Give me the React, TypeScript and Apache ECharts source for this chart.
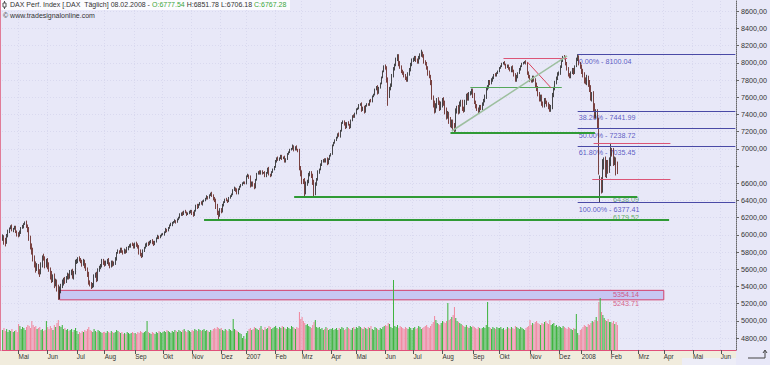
import React, { useEffect, useRef } from 'react';
import * as echarts from 'echarts';

// ---------- calendar ----------
const firstDay = '2006-04-11';
const axisDays = 554;
const holidays = ['2006-04-14', '2006-04-17', '2006-05-01', '2006-12-25', '2006-12-26', '2007-01-01', '2007-04-06', '2007-04-09', '2007-05-01', '2007-12-24', '2007-12-25', '2007-12-26', '2007-12-31', '2008-01-01', '2008-03-21', '2008-03-24', '2008-05-01'];
const monthNames = ['Jan', 'Feb', 'Mrz', 'Apr', 'Mai', 'Jun', 'Jul', 'Aug', 'Sep', 'Okt', 'Nov', 'Dez'];

// ---------- daily closes (DAX, Apr 2006 - Feb 2008) ----------
const closes = [
  5985, 5935, 5905, 5990, 6040, 6075, 6090, 6060, 6070, 6085, 6040, 6010,
  5990, 6030, 6080, 6095, 6125, 6135, 6100, 6060, 5950, 5870, 5800, 5720, 5660, 5610, 5630, 5580, 5560, 5650, 5740, 5720, 5650, 5700,
  5640, 5600, 5530, 5480, 5510, 5430, 5460, 5380, 5290, 5350, 5400, 5440, 5480, 5460, 5500, 5530, 5510, 5560, 5575, 5510, 5560, 5680,
  5700, 5720, 5710, 5690, 5660, 5690, 5640, 5600, 5540, 5450, 5420, 5400, 5410, 5520, 5540, 5480, 5590, 5620, 5640, 5700, 5680,
  5650, 5680, 5710, 5660, 5630, 5680, 5650, 5670, 5720, 5790, 5810, 5800, 5830, 5810, 5790, 5820, 5800, 5840, 5860, 5870, 5890, 5880, 5860,
  5900, 5880, 5860, 5800, 5770, 5760, 5810, 5850, 5880, 5900, 5890, 5920, 5930, 5910, 5890, 5920, 5960, 5980, 5970, 5990, 6005,
  6010, 6030, 6060, 6050, 6080, 6110, 6120, 6140, 6150, 6160, 6150, 6180, 6200, 6230, 6250, 6240, 6270, 6260, 6240, 6250, 6270, 6280,
  6250, 6230, 6280, 6340, 6320, 6350, 6370, 6360, 6390, 6400, 6420, 6440, 6430, 6460, 6480, 6450, 6420, 6400, 6330, 6260, 6230, 6290,
  6270, 6340, 6380, 6410, 6400, 6390, 6430, 6450, 6470, 6520, 6540, 6520, 6480, 6530, 6560, 6580, 6600, 6610, 6597,
  6680, 6690, 6670, 6570, 6610, 6580, 6550, 6640, 6710, 6730, 6710, 6740, 6720, 6720, 6680, 6720, 6770, 6700, 6690, 6730, 6760, 6790,
  6860, 6890, 6870, 6890, 6920, 6890, 6900, 6850, 6880, 6940, 6960, 6990, 7000, 7030, 6990, 7020, 6990, 6980, 6780, 6720,
  6630, 6620, 6500, 6590, 6620, 6700, 6720, 6680, 6610, 6490, 6590, 6640, 6730, 6760, 6810, 6860, 6870, 6850, 6880, 6830, 6880, 6920,
  6940, 7040, 7070, 7100, 7130, 7170, 7150, 7210, 7300, 7320, 7290, 7250, 7300, 7280, 7250, 7330, 7380, 7370, 7410,
  7460, 7470, 7510, 7520, 7450, 7480, 7430, 7500, 7520, 7510, 7560, 7550, 7610, 7630, 7690, 7720, 7650, 7710, 7760, 7830, 7900, 7960,
  7940, 7800, 7620, 7700, 7740, 7850, 7930, 7980, 8040, 8080, 7990, 7950, 7900, 7880, 7850, 7820, 7800, 7870, 7920, 7980, 8030,
  8040, 8060, 8030, 8010, 8060, 8090, 8110, 8080, 8010, 7990, 7940, 7880, 7840, 7770, 7600, 7520, 7460, 7500, 7570, 7540, 7480, 7520,
  7560, 7530, 7450, 7380, 7400, 7330, 7290, 7310, 7260, 7230, 7440, 7470, 7430, 7520, 7540, 7470, 7450, 7540, 7620, 7580, 7640, 7650, 7680,
  7620, 7540, 7500, 7460, 7440, 7490, 7470, 7520, 7560, 7610, 7700, 7720, 7780, 7760, 7800, 7830, 7860, 7850, 7880, 7900,
  7940, 7960, 7990, 8000, 7980, 7950, 7970, 7930, 7910, 7950, 7900, 7860, 7800, 7840, 7880, 7920, 7960, 7990, 8000, 8010, 7990, 7880, 7840,
  7800, 7790, 7830, 7800, 7740, 7700, 7640, 7580, 7600, 7530, 7510, 7560, 7540, 7520, 7490, 7460, 7480, 7620, 7700, 7770, 7820, 7870,
  7880, 7950, 8030, 8070, 8060, 7990, 7930, 7860, 7840, 7890, 7920, 7880, 7960, 8040, 8067, 7990, 7950,
  7900, 7860, 7800, 7780, 7820, 7760, 7700, 7600, 7620, 7480, 7400, 7410, 7300, 6790, 6600, 6540, 6820, 6850, 6720, 6820, 6760, 6850,
  6970, 6960, 6850, 6860, 6740, 6767.28,
];
const firstOpen = 5960;
// upper / lower wick lengths, in tens of index points
const hiW = [
  2, 1, 3, 2, 2, 1, 2, 3, 1, 2, 2, 1,
  2, 2, 1, 2, 1, 2, 3, 2, 3, 4, 3, 5, 4, 3, 4, 3, 2, 3, 2, 4, 3, 2,
  3, 4, 2, 5, 3, 4, 3, 2, 4, 5, 3, 4, 2, 3, 2, 3, 2, 3, 2, 3, 2, 3,
  2, 2, 3, 2, 2, 3, 2, 3, 2, 3, 2, 3, 3, 2, 2, 3, 2, 2, 2, 2, 2,
  2, 2, 1, 2, 2, 2, 2, 2, 2, 1, 2, 1, 2, 2, 1, 2, 1, 2, 1, 2, 1, 2, 2,
  1, 2, 2, 2, 3, 2, 2, 1, 2, 1, 2, 1, 1, 2, 2, 1, 1, 2, 1, 1, 1,
  1, 1, 2, 1, 1, 1, 2, 1, 1, 2, 1, 1, 1, 2, 1, 2, 1, 2, 1, 1, 1, 1,
  1, 2, 1, 1, 2, 1, 1, 2, 1, 1, 1, 2, 1, 1, 1, 2, 2, 2, 2, 3, 2, 2,
  2, 2, 1, 1, 2, 1, 1, 1, 1, 1, 2, 1, 2, 1, 1, 1, 1, 1, 1,
  1, 2, 1, 2, 1, 1, 2, 1, 1, 1, 2, 1, 1, 1, 2, 1, 1, 2, 1, 1, 1, 1,
  1, 1, 2, 1, 1, 1, 1, 2, 1, 1, 1, 1, 1, 2, 1, 1, 2, 1, 2, 2,
  3, 2, 4, 3, 2, 2, 2, 2, 3, 3, 2, 2, 2, 1, 2, 1, 1, 2, 1, 2, 1, 1,
  1, 1, 1, 1, 1, 1, 2, 1, 1, 1, 1, 2, 1, 2, 1, 1, 1, 2, 1,
  1, 1, 1, 1, 2, 1, 2, 1, 1, 1, 1, 2, 1, 1, 1, 1, 2, 1, 1, 1, 1, 1,
  2, 2, 3, 2, 2, 2, 2, 1, 2, 2, 2, 3, 2, 2, 2, 2, 2, 2, 2, 2, 2,
  2, 2, 2, 2, 2, 2, 3, 2, 2, 2, 2, 2, 3, 2, 3, 2, 4, 3, 2, 3, 2, 3,
  3, 4, 3, 3, 4, 3, 4, 3, 3, 4, 3, 3, 4, 3, 3, 3, 2, 3, 2, 3, 2, 2, 2,
  2, 3, 2, 2, 2, 2, 2, 2, 2, 2, 2, 2, 2, 2, 2, 1, 1, 2, 1, 1,
  1, 1, 1, 1, 2, 1, 1, 1, 2, 1, 2, 2, 2, 2, 1, 2, 1, 1, 1, 1, 2, 2, 2,
  2, 2, 2, 2, 2, 3, 3, 2, 3, 3, 2, 3, 3, 2, 2, 3, 3, 3, 2, 2, 2, 2,
  2, 2, 2, 1, 2, 2, 2, 2, 2, 1, 2, 2, 1, 2, 3, 2, 2,
  3, 3, 3, 3, 4, 3, 4, 4, 4, 5, 5, 5, 5, 6, 9, 7, 6, 5, 6, 5, 5, 5,
  9, 4, 5, 5, 4, 0,
];
const loW = [
  3, 5, 4, 1, 2, 2, 1, 2, 3, 1, 2, 3,
  2, 1, 2, 1, 2, 1, 2, 3, 2, 4, 3, 3, 4, 5, 3, 4, 5, 2, 3, 2, 4, 3,
  4, 3, 5, 4, 3, 5, 3, 4, 5, 4, 3, 2, 3, 3, 2, 2, 3, 2, 3, 2, 3, 2,
  2, 3, 2, 2, 3, 2, 3, 2, 3, 3, 2, 3, 2, 2, 2, 3, 2, 2, 2, 2, 3,
  2, 1, 2, 2, 2, 1, 2, 1, 2, 2, 1, 2, 1, 2, 2, 1, 2, 1, 2, 1, 2, 1, 2,
  2, 2, 2, 3, 2, 3, 2, 1, 1, 2, 2, 1, 2, 2, 2, 1, 1, 1, 2, 1, 1,
  1, 2, 1, 2, 1, 1, 1, 2, 1, 1, 2, 1, 1, 1, 1, 2, 1, 1, 2, 1, 1, 2,
  2, 2, 1, 1, 2, 1, 1, 1, 2, 1, 1, 1, 2, 1, 1, 1, 2, 2, 3, 3, 5, 2,
  2, 1, 1, 1, 1, 2, 1, 1, 1, 1, 1, 2, 1, 1, 1, 1, 1, 1, 1,
  1, 1, 2, 2, 1, 2, 2, 1, 1, 1, 1, 1, 2, 1, 1, 1, 1, 1, 2, 1, 1, 1,
  1, 2, 1, 1, 1, 2, 1, 1, 1, 1, 1, 1, 1, 1, 2, 1, 1, 2, 3, 4,
  4, 3, 6, 3, 2, 2, 2, 2, 3, 4, 3, 2, 1, 2, 1, 1, 2, 1, 1, 2, 1, 1,
  1, 1, 1, 1, 1, 1, 1, 2, 1, 1, 2, 2, 1, 1, 2, 1, 1, 1, 1,
  1, 1, 1, 1, 2, 1, 2, 1, 1, 1, 1, 1, 1, 1, 1, 1, 2, 1, 1, 1, 1, 1,
  2, 3, 5, 3, 2, 2, 2, 2, 2, 2, 3, 2, 2, 2, 2, 2, 2, 2, 2, 2, 2,
  2, 2, 2, 2, 2, 2, 2, 2, 2, 2, 2, 3, 2, 3, 3, 4, 5, 4, 3, 3, 4, 3,
  4, 3, 5, 4, 3, 4, 4, 5, 4, 4, 3, 3, 3, 2, 3, 3, 3, 2, 3, 2, 2, 2, 2,
  3, 2, 3, 2, 3, 2, 2, 2, 2, 2, 3, 2, 2, 2, 1, 2, 2, 1, 1, 1,
  1, 1, 1, 1, 1, 2, 1, 1, 1, 2, 1, 2, 2, 2, 2, 1, 1, 1, 1, 1, 1, 2, 2,
  2, 2, 2, 2, 3, 3, 3, 3, 3, 3, 3, 3, 2, 3, 3, 3, 3, 2, 2, 2, 2, 2,
  2, 2, 1, 2, 2, 2, 2, 2, 2, 2, 2, 2, 1, 1, 2, 2, 2,
  3, 3, 4, 3, 4, 4, 4, 4, 5, 5, 5, 5, 6, 9, 9, 6, 5, 6, 5, 6, 5, 4,
  5, 5, 5, 4, 5, 0,
];
const keyHighs: [number, number][] = [[316, 8151.57], [434, 8100.04], [459, 7060]];
const keyLows: [number, number][] = [[42, 5243.71], [163, 6179.52], [228, 6438.09], [291, 7500], [341, 7192], [451, 6377.41]];
const keyOpens: [number, number][] = [[451, 6450]];
const lastOpen = 6777.54;
const lastHigh = 6851.78;
const lastLow = 6706.18;
const lastClose = 6767.28;

// volume (Mio.)
const volumes = [
  20, 22, 19, 21, 18, 20, 19, 21, 18, 19, 20, 18,
  26, 24, 21, 23, 22, 20, 23, 25, 24, 22, 29, 25, 23, 24, 21, 22, 23, 20, 21, 19, 20, 29,
  23, 21, 24, 22, 20, 25, 23, 27, 30, 24, 23, 25, 21, 22, 20, 21, 19, 20, 21, 18, 20, 22,
  19, 16, 18, 17, 19, 18, 20, 19, 21, 23, 20, 19, 18, 21, 19, 18, 20, 19, 18, 17, 18,
  18, 17, 19, 18, 17, 19, 18, 17, 18, 20, 19, 18, 17, 18, 16, 17, 16, 18, 17, 16, 17, 18, 17,
  17, 16, 18, 17, 19, 18, 17, 18, 19, 29, 18, 17, 16, 18, 17, 16, 18, 17, 19, 18, 17,
  18, 19, 18, 20, 19, 18, 17, 19, 18, 20, 19, 18, 20, 19, 18, 20, 21, 19, 18, 20, 19, 18,
  20, 19, 21, 20, 19, 21, 20, 19, 20, 21, 19, 20, 19, 18, 20, 19, 21, 22, 21, 23, 22, 21,
  22, 20, 19, 21, 20, 19, 21, 20, 19, 31, 21, 20, 19, 18, 17, 16, 12, 14, 11,
  17, 19, 21, 22, 20, 21, 23, 22, 21, 20, 22, 24, 21, 20, 23, 21, 22, 24, 23, 21, 22, 23,
  24, 22, 21, 23, 22, 24, 23, 22, 21, 23, 22, 21, 24, 23, 22, 21, 23, 22, 38, 31,
  33, 29, 27, 25, 26, 24, 23, 22, 25, 28, 30, 23, 22, 23, 21, 22, 20, 21, 23, 22, 20, 21,
  21, 22, 20, 21, 22, 20, 22, 21, 23, 22, 20, 21, 23, 22, 21, 20, 22, 23, 21,
  23, 22, 24, 23, 22, 21, 23, 22, 21, 23, 22, 24, 21, 20, 23, 22, 21, 20, 22, 21, 23, 24,
  25, 24, 27, 26, 23, 22, 70, 24, 23, 25, 22, 24, 23, 22, 21, 23, 22, 21, 23, 22, 20,
  22, 23, 21, 22, 24, 23, 21, 22, 23, 24, 25, 23, 22, 24, 26, 28, 34, 30, 27, 26, 25, 27,
  29, 28, 27, 29, 47, 30, 31, 33, 35, 43, 32, 29, 28, 27, 26, 25, 24, 23, 25, 23, 22, 24, 23,
  24, 23, 22, 21, 23, 22, 21, 22, 23, 22, 25, 48, 23, 22, 21, 23, 22, 21, 23, 22,
  22, 23, 21, 22, 20, 21, 23, 22, 21, 23, 22, 21, 24, 23, 22, 21, 23, 22, 21, 20, 22, 23, 24,
  30, 25, 27, 26, 28, 29, 27, 26, 25, 27, 26, 28, 29, 27, 26, 30, 25, 26, 27, 24, 25, 23,
  24, 23, 22, 24, 23, 22, 21, 23, 22, 21, 20, 22, 21, 36, 17, 15, 20,
  21, 23, 25, 24, 23, 26, 25, 27, 29, 28, 30, 33, 29, 48, 52, 38, 35, 32, 30, 29, 31, 28,
  28, 27, 29, 26, 28, 25,
];

// ---------- axis ticks ----------
const priceTicks = [4800, 5000, 5200, 5400, 5600, 5800, 6000, 6200, 6400, 6600, 6800, 7000, 7200, 7400, 7600, 7800, 8000, 8200, 8400, 8600];
const priceLabelTicks = [4800, 5000, 5200, 5400, 5600, 5800, 6000, 6200, 6400, 6600, 7000, 7200, 7400, 7600, 7800, 8000, 8200, 8400, 8600];
const priceMin = 4660.5;
const priceMax = 8718.6;

// ---------- drawings ----------
const fibPct = ['0.00%', '38.20%', '50.00%', '61.80%', '100.00%'];
const fibValues = [8100.04, 7441.99, 7238.72, 7035.45, 6377.41];
const fibFrom = 434;
const supportLevels = [
  { from: 220, to: 479, value: 6438.09 },
  { from: 152, to: 503, value: 6179.52 },
  { from: 338, to: 447, value: 7192 },
];
const thinGreenLevels = [{ from: 353, to: 422, value: 7719 }];
const redLevels = [
  { from: 378, to: 426, value: 8056 },
  { from: 446, to: 504, value: 7068 },
  { from: 445, to: 504, value: 6649 },
];
const redDiagonals = [{ from: 396, fromValue: 8010, to: 414, toValue: 7707 }];
const trendLines = [{ from: 339, fromValue: 7207, to: 426, toValue: 8080 }];
const boxRange = { from: 43, to: 499, top: 5354.14, bottom: 5243.71 };
const levelLabelAt = 460;

const FONT = 'Liberation Sans, Arial, sans-serif';

function buildDates(): string[] {
  const out: string[] = [];
  const hol = new Set(holidays);
  const d = new Date(firstDay + 'T00:00:00Z');
  while (out.length < axisDays) {
    const wd = d.getUTCDay();
    const s = d.toISOString().slice(0, 10);
    if (wd !== 0 && wd !== 6 && !hol.has(s)) out.push(s);
    d.setUTCDate(d.getUTCDate() + 1);
  }
  return out;
}

const de2 = (v: number) => v.toFixed(2).replace('.', ',');

export default function App() {
  const ref = useRef<HTMLDivElement>(null);
  useEffect(() => {
    if (!ref.current) return;
    const chart = echarts.init(ref.current, undefined, { renderer: 'svg' });
    const dates = buildDates();
    const isMonthStart = (i: number) => i > 0 && dates[i].slice(5, 7) !== dates[i - 1].slice(5, 7);
    const lastIdx = closes.length - 1;

    const candles = closes.map((c, i) => {
      let o = i === 0 ? firstOpen : closes[i - 1];
      const ko = keyOpens.find((k) => k[0] === i);
      if (ko) o = ko[1];
      let h = Math.max(o, c) + hiW[i] * 10;
      let l = Math.min(o, c) - loW[i] * 10;
      const kh = keyHighs.find((k) => k[0] === i);
      if (kh) h = kh[1];
      const kl = keyLows.find((k) => k[0] === i);
      if (kl) l = kl[1];
      if (i === lastIdx) { o = lastOpen; h = lastHigh; l = lastLow; }
      return [o, c, l, h];
    });

    const volData = volumes.map((v, i) => ({
      value: v,
      itemStyle: { color: candles[i][1] >= candles[i][0] ? '#3fb43f' : '#f0899f' },
    }));

    const seg = (a: number, av: number, b: number, bv: number, color: string, width: number) => [
      { coord: [a, av], lineStyle: { color, width, type: 'solid' } },
      { coord: [b, bv] },
    ];
    const lastCat = axisDays - 1;
    const markLines: any[] = [
      {
        yAxis: lastClose,
        lineStyle: { opacity: 0 },
        label: {
          show: true, position: 'end', distance: 2, formatter: de2(lastClose),
          fontSize: 7.2, fontFamily: FONT, color: '#222', backgroundColor: '#f6f6f6',
          borderColor: '#8a8a8a', borderWidth: 1, padding: [1, 3, 0, 3],
        },
      },
      ...fibValues.map((v) => seg(fibFrom, v, lastCat, v, '#4a4aa6', 1)),
      ...supportLevels.map((s) => seg(s.from, s.value, s.to, s.value, '#2f9a35', 2)),
      ...thinGreenLevels.map((s) => seg(s.from, s.value, s.to, s.value, '#55a85a', 1)),
      ...redLevels.map((s) => seg(s.from, s.value, s.to, s.value, '#dc5577', 1)),
      ...redDiagonals.map((s) => seg(s.from, s.fromValue, s.to, s.toValue, '#d9455e', 1)),
      ...trendLines.map((s) => seg(s.from, s.fromValue, s.to, s.toValue, '#9dbf9f', 1.5)),
    ];

    const lbl = (idx: number, v: number, text: string, color: string, dy: number) => ({
      value: [idx, v],
      label: { show: true, position: 'right', distance: 1, formatter: text, color, fontSize: 7.2, fontFamily: FONT, lineHeight: 8, offset: [0, dy] },
    });
    const fibDy = [7, 7, 7, 7, 7];
    const labelData = [
      ...fibValues.map((v, k) => lbl(fibFrom, v, `${fibPct[k]} - ${v.toFixed(2)}`, '#3535b5', fibDy[k])),
      lbl(levelLabelAt, supportLevels[0].value, supportLevels[0].value.toFixed(2), '#3f8a63', 2.5),
      lbl(levelLabelAt, supportLevels[1].value, supportLevels[1].value.toFixed(2), '#3a9a3a', -1.5),
      lbl(levelLabelAt, boxRange.top, boxRange.top.toFixed(2), '#d0386a', 4),
      lbl(levelLabelAt, boxRange.bottom, boxRange.bottom.toFixed(2), '#d0386a', 4),
    ];

    const lastDate = dates[lastIdx];
    const headerDate = `${lastDate.slice(8, 10)}.${lastDate.slice(5, 7)}.${lastDate.slice(0, 4)}`;

    chart.setOption({
      animation: false,
      backgroundColor: 'transparent',
      textStyle: { fontFamily: FONT },
      grid: [
        { left: 2, right: 34, top: 1, bottom: 15, show: false },
        { left: 2, right: 34, top: 250, bottom: 15, show: false },
      ],
      xAxis: [
        {
          type: 'category', gridIndex: 0, data: dates, boundaryGap: true,
          axisLine: { show: true, lineStyle: { color: '#e0507a', width: 1 } },
          axisTick: { show: true, interval: (i: number) => isMonthStart(i), alignWithLabel: true, length: 4, lineStyle: { color: '#555' } },
          axisLabel: {
            interval: (i: number) => isMonthStart(i), fontSize: 6.4, color: '#333', align: 'left', margin: 3,
            formatter: (v: string) => { const m = +v.slice(5, 7); return m === 1 ? v.slice(0, 4) : monthNames[m - 1]; },
          },
          splitLine: { show: true, interval: (i: number) => isMonthStart(i), lineStyle: { color: '#d9d9ef', type: [1, 2] } },
        },
        { type: 'category', gridIndex: 1, data: dates, boundaryGap: true, show: false },
      ],
      yAxis: [
        {
          type: 'value', gridIndex: 0, position: 'right', min: priceMin, max: priceMax,
          axisLine: { show: true, lineStyle: { color: '#666', type: 'dotted' } },
          axisTick: { show: true, length: 3, customValues: priceTicks, lineStyle: { color: '#666' } },
          axisLabel: { customValues: priceLabelTicks, formatter: (v: number) => de2(v), fontSize: 7.2, color: '#333', margin: 5 },
          splitLine: { show: true, lineStyle: { color: '#d9d9ef', type: [1, 2] } },
        },
        { type: 'value', gridIndex: 1, min: 0, max: 100, show: false },
      ],
      series: [
        {
          type: 'scatter', xAxisIndex: 0, yAxisIndex: 0, z: 1, symbolSize: 0, silent: true,
          data: labelData,
          markArea: {
            silent: true,
            itemStyle: { color: '#c7c7f3', borderColor: '#d2406c', borderWidth: 1 },
            data: [[{ coord: [boxRange.from, boxRange.top] }, { coord: [boxRange.to, boxRange.bottom] }]],
          },
        },
        {
          type: 'bar', xAxisIndex: 1, yAxisIndex: 1, z: 2, barWidth: '78%', silent: true,
          data: volData,
        },
        {
          type: 'candlestick', xAxisIndex: 0, yAxisIndex: 0, z: 3, barWidth: '78%', silent: true,
          itemStyle: { color: '#f2f2f2', color0: '#b3382c', borderColor: '#1c1c1c', borderColor0: '#5c1612', borderWidth: 0.8 },
          data: candles,
          markLine: { silent: true, symbol: ['none', 'none'], label: { show: false }, data: markLines },
        },
      ],
      graphic: [
        { type: 'rect', shape: { x: 0, y: 0, width: 290, height: 10 }, style: { fill: '#fbfbfe' }, z: 10 },
        { type: 'line', shape: { x1: 4.5, y1: 1, x2: 4.5, y2: 9 }, style: { stroke: '#555', lineWidth: 1 }, z: 11 },
        { type: 'rect', shape: { x: 3, y: 3, width: 3, height: 4 }, style: { fill: '#fff', stroke: '#555', lineWidth: 1 }, z: 12 },
        {
          type: 'text', x: 10, y: 1, z: 12,
          style: {
            text: `{d|DAX Perf. Index [.DAX  Täglich] ${headerDate} - }{g|O:${lastOpen.toFixed(2)}}{d| H:${lastHigh.toFixed(2)} L:${lastLow.toFixed(2)} }{g|C:${lastClose.toFixed(2)}}`,
            rich: {
              d: { fill: '#333', fontSize: 7, fontFamily: FONT },
              g: { fill: '#3aa63a', fontSize: 7, fontFamily: FONT },
            },
            fontSize: 7, fontFamily: FONT,
          },
        },
        { type: 'text', x: 3, y: 12, z: 12, style: { text: '© www.tradesignalonline.com', fill: '#333', fontSize: 7, fontFamily: FONT } },
        { type: 'line', shape: { x1: 0.5, y1: 0, x2: 0.5, y2: 351 }, style: { stroke: '#e07c98', lineWidth: 1 }, z: 12 },
        { type: 'polyline', shape: { points: [[748, 358], [765, 358], [765, 351]] }, style: { stroke: '#444', fill: 'none', lineWidth: 1 }, z: 12 },
        { type: 'polyline', shape: { points: [[763, 353], [765, 350], [767, 353]] }, style: { stroke: '#444', fill: 'none', lineWidth: 1 }, z: 12 },
      ],
    });
    return () => chart.dispose();
  }, []);

  return (
    <div style={{ position: 'fixed', left: 0, top: 0, width: 770, height: 365, background: '#e8e8f8', overflow: 'hidden' }}>
      <div style={{ position: 'absolute', left: 0, top: 351, width: 736, height: 14, background: '#f1ecdd' }} />
      <div style={{ position: 'absolute', left: 682, top: 358, width: 54, height: 7, background: '#ededf7' }} />
      <div ref={ref} style={{ position: 'absolute', left: 0, top: 0, width: 770, height: 365 }} />
    </div>
  );
}
